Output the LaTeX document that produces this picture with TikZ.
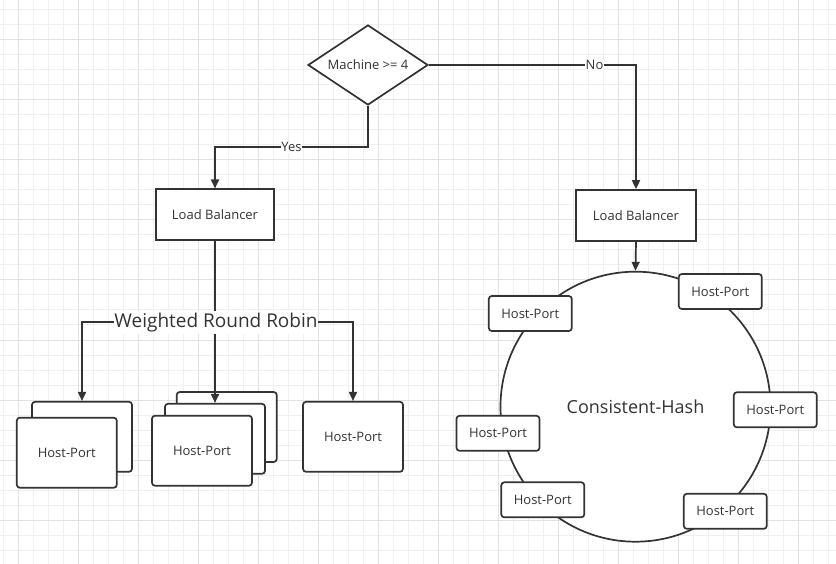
\documentclass[tikz,border=0pt]{standalone}
\usepackage{fontspec}
\setmainfont{Open Sans}
\usetikzlibrary{shapes.geometric,arrows.meta}
\definecolor{dk}{RGB}{51,51,51}
\definecolor{gminor}{RGB}{240,240,240}
\definecolor{gmajor}{RGB}{226,226,226}
\newcommand{\fsz}[1]{\fontsize{#1}{#1}\selectfont}
\tikzset{
  conn/.style={draw=dk, line width=1.7pt},
  arr/.style={conn, -{Triangle[length=9pt,width=8pt]}},
  box/.style={draw=dk, line width=1.7pt, fill=white, rectangle, inner sep=0pt, text=dk, font=\fsz{13}},
  hostbox/.style={box, rounded corners=3pt, minimum width=83pt, minimum height=35pt},
  stackbox/.style={box, rounded corners=3pt, minimum width=100pt, minimum height=70pt},
  lbbox/.style={box, minimum height=51pt},
  lbl/.style={fill=white, text=dk, inner xsep=0.5pt, inner ysep=1pt, font=\fsz{13}},
}
\begin{document}
\begin{tikzpicture}[x=1pt,y=-1pt]
\useasboundingbox (0,0) rectangle (836,564);
% grid
\foreach \x in {3.3,18.3,...,836} \draw[gminor, line width=1pt] (\x,0) -- (\x,564);
\foreach \y in {10,25,...,564} \draw[gminor, line width=1pt] (0,\y) -- (836,\y);
\foreach \x in {18.3,78.3,...,836} \draw[gmajor, line width=1pt] (\x,0) -- (\x,564);
\foreach \y in {40,100,...,564} \draw[gmajor, line width=1pt] (0,\y) -- (836,\y);

% decision
\node[diamond, draw=dk, line width=1.7pt, fill=white, aspect=1.5, inner sep=0pt,
      minimum width=120pt, minimum height=80pt, text=dk, font=\fsz{13}] (d) at (368,65) {Machine >= 4};

% load balancers
\node[lbbox, minimum width=118.6pt] (llb) at (215,214.8) {Load Balancer};
\node[lbbox, minimum width=120pt] (rlb) at (636,215.5) {Load Balancer};

% No branch
\draw[arr] (d.east) -| node[lbl, pos=0.40] {No} (rlb.north);
% Yes branch
\coordinate (ybend) at (368,147);
\draw[arr] (d.south) -- (ybend) -| node[lbl, pos=0.25] {Yes} (llb.north);

% left stack
\node[stackbox] (l2) at (82,436.8) {};
\node[stackbox] (l1) at (66.8,452.7) {Host-Port};
% middle stack
\node[stackbox] (m3) at (226.7,427) {};
\node[stackbox] (m2) at (215,438.8) {};
\node[stackbox] (m1) at (202,450.7) {Host-Port};
% right single
\node[stackbox] (r1) at (353,436.8) {Host-Port};

% weighted round robin
\draw[arr] (llb.south) -- (m2.north);
\node[fill=white, text=dk, inner xsep=0.5pt, inner ysep=2pt, font=\fsz{19}] (wrr) at (216,323) {Weighted Round Robin};
\draw[arr] (wrr.west |- 0,322) -| (l2.north);
\draw[arr] (wrr.east |- 0,322) -| (r1.north);

% consistent hash ring
\node[circle, draw=dk, line width=1.7pt, fill=white, minimum size=270pt, inner sep=0pt,
      text=dk, font=\fsz{18}] (ch) at (635.5,406.7) {Consistent-Hash};
\draw[arr] (rlb.south) -- (ch.north);

\node[hostbox] (h1) at (720.3,291.5) {Host-Port};
\node[hostbox] (h2) at (530.3,313.5) {Host-Port};
\node[hostbox] (h3) at (775.3,409.8) {Host-Port};
\node[hostbox] (h4) at (498,433.3) {Host-Port};
\node[hostbox] (h5) at (542.8,499.8) {Host-Port};
\node[hostbox] (h6) at (725.3,511.3) {Host-Port};
\end{tikzpicture}
\end{document}
